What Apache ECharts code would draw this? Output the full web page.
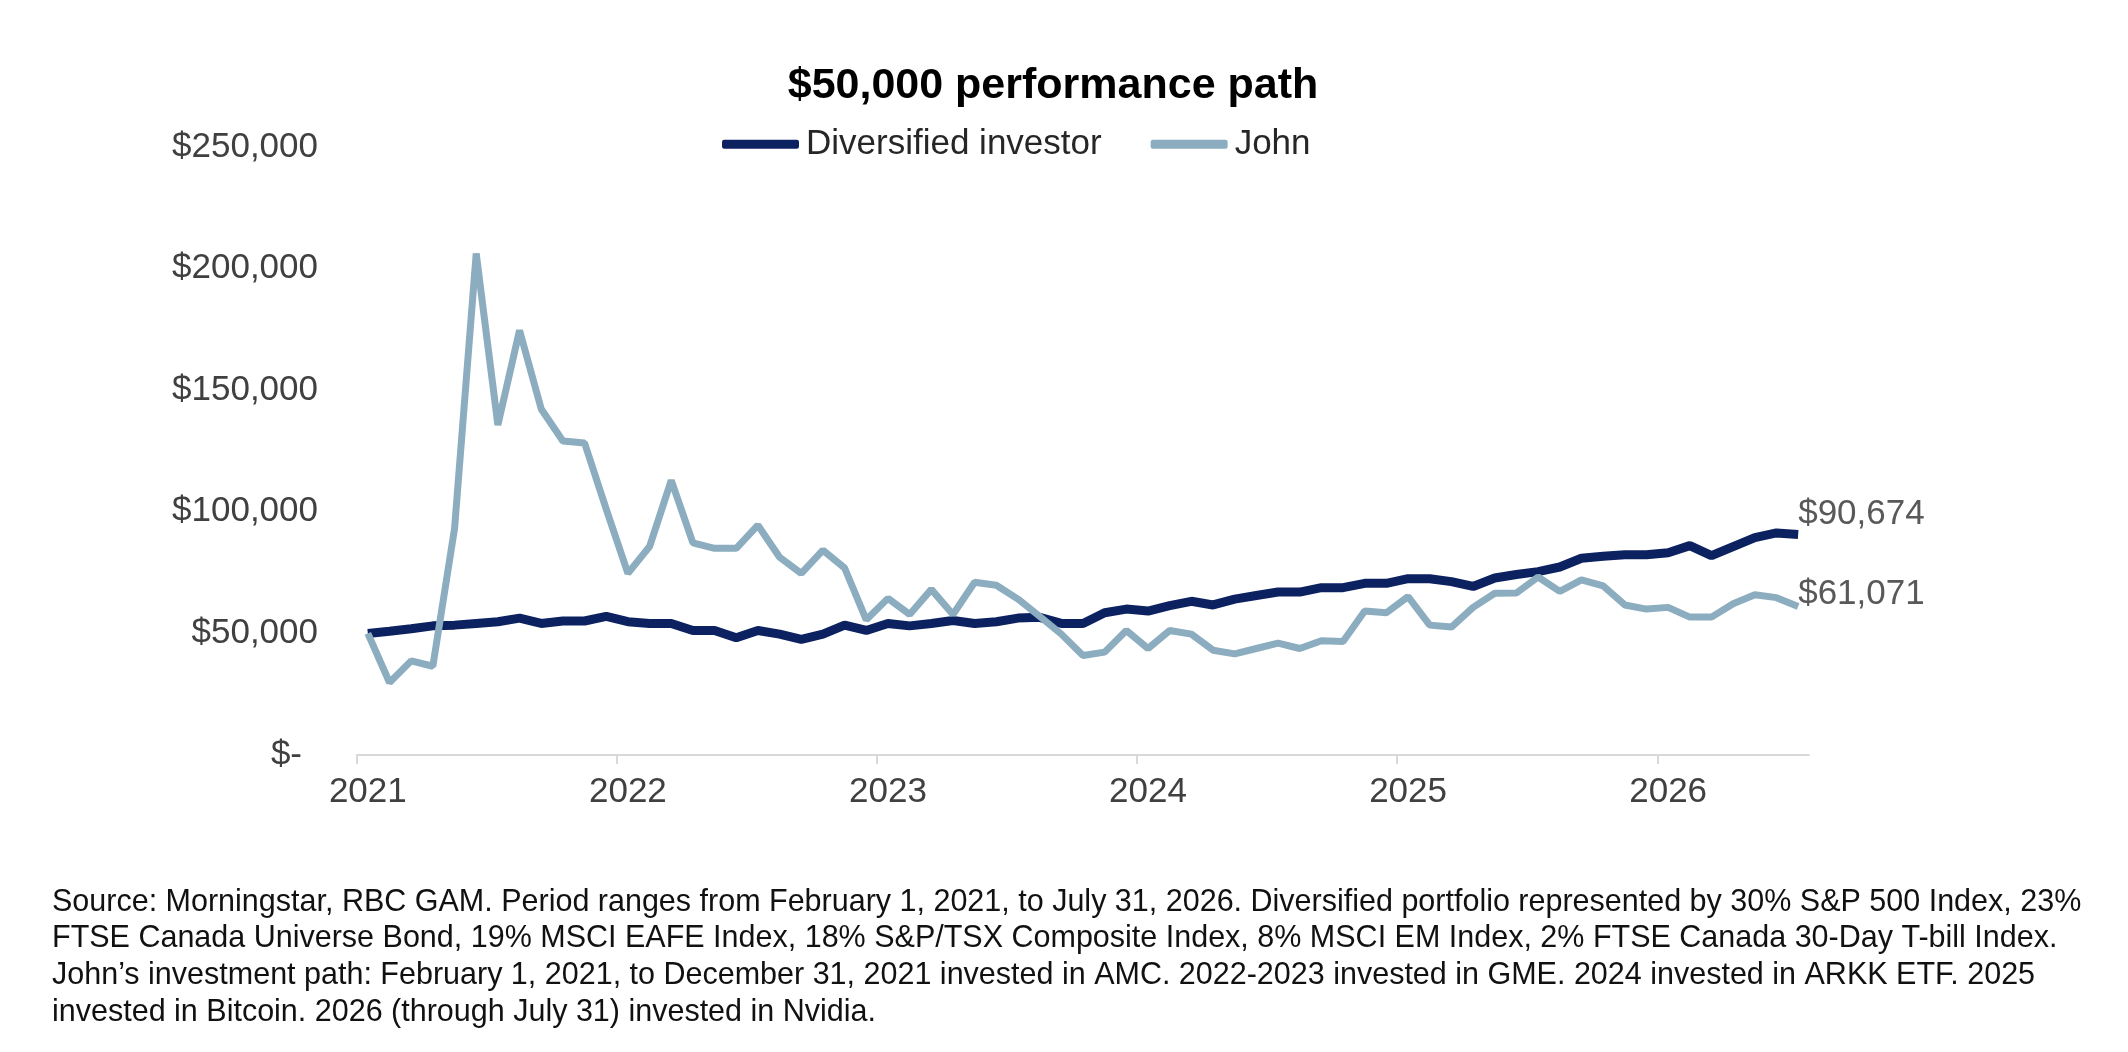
<html>
<head>
<title>$50,000 performance path</title>
<style type="text/css">
body{
	margin:0;
	background-color:#ffffff;
}
#chart{
	width:2128px;
	height:1052px;
}
</style>
<script src="https://cdn.jsdelivr.net/npm/echarts@6/dist/echarts.min.js"></script>
</head>
<body>
	<div id="chart"></div>
	<script type="text/javascript">
	// monthly points, Jan 2021 .. Jul 2026 (first point = the $50,000 start)
	var startYear = 2021;
	var monthCount = 67;
	var months = [];
	for (var i = 0; i < monthCount; i++) {
		var y = startYear + Math.floor(i / 12);
		var m = i % 12 + 1;
		months.push(y + '-' + (m < 10 ? '0' + m : m));
	}
	// year boundaries, counted in months from Jan 2021
	var yearTicks = [0, 12, 24, 36, 48, 60];

	var seriesNames = ['Diversified investor', 'John'];

	var diversified = [
		50000, 50900, 51900, 53100, 53400, 54100, 54800, 56300, 54100, 55100, 55100, 57000,
		54800, 54100, 54100, 51200, 51200, 48200, 51200, 49700, 47500, 49700, 53400, 51200,
		54100, 53100, 54100, 55300, 54100, 54800, 56300, 56600, 54100, 54100, 58500, 60000,
		59200, 61400, 63200, 61700, 64100, 65600, 67000, 67000, 68800, 68800, 70600, 70600,
		72500, 72500, 71300, 69300, 72800, 74200, 75400, 77300, 80900, 81700, 82300, 82300,
		83200, 86100, 82000, 85700, 89400, 91300, 90674
	];

	var john = [
		50000, 29800, 38700, 36500, 93000, 206200, 135700, 174600, 142300, 129100, 128300, 101100,
		74700, 85700, 112900, 87200, 85000, 85000, 94500, 81300, 74700, 84200, 76900, 55600,
		64400, 57800, 68100, 57800, 71000, 69800, 64100, 57000, 49700, 40900, 42300, 51200,
		43800, 51200, 49700, 43100, 41600, 43800, 46000, 43800, 47000, 46700, 59200, 58500,
		65100, 53400, 52600, 60700, 66500, 66600, 73200, 67300, 72000, 69500, 61700, 60000,
		60700, 56700, 56700, 62200, 65900, 64700, 61071
	];

	var yTicks = [0, 50000, 100000, 150000, 200000, 250000];

	var footnote = [
		'Source: Morningstar, RBC GAM. Period ranges from February 1, 2021, to July 31, 2026. Diversified portfolio represented by 30% S&P 500 Index, 23%',
		'FTSE Canada Universe Bond, 19% MSCI EAFE Index, 18% S&P/TSX Composite Index, 8% MSCI EM Index, 2% FTSE Canada 30-Day T-bill Index.',
		'John\u2019s investment path: February 1, 2021, to December 31, 2021 invested in AMC. 2022-2023 invested in GME. 2024 invested in ARKK ETF. 2025',
		'invested in Bitcoin. 2026 (through July 31) invested in Nvidia.'
	];

	var font = '"Liberation Sans", Arial, sans-serif';
	var darkBlue = '#0c2160';
	var lightBlue = '#8cadbf';
	var axisGray = '#d9d9d9';

	function money(v){
		return '$' + Math.round(v).toLocaleString('en-US');
	}
	function isYearStart(index){
		return index % 12 === 0;
	}

	var myChart = echarts.init(document.getElementById('chart'));
	var option = {
		backgroundColor: '#ffffff',
		animation: false,
		textStyle: {fontFamily: font},
		title: {
			text: '$50,000 performance path',
			left: 1048,
			top: 44,
			textAlign: 'center',
			textStyle: {fontSize: 43, fontWeight: 'bold', color: '#000000', fontFamily: font}
		},
		legend: {
			data: seriesNames,
			left: 717,
			top: 109,
			icon: 'roundRect',
			itemWidth: 77,
			itemHeight: 9,
			itemGap: 49,
			textStyle: {fontSize: 35, color: '#262626', fontFamily: font, padding: [0, 0, 0, 2]}
		},
		grid: {left: 357, right: 319, top: 147, bottom: 297, containLabel: false},
		xAxis: [{
			type: 'category',
			data: months,
			boundaryGap: true,
			axisLine: {lineStyle: {color: axisGray, width: 2}},
			axisTick: {show: false},
			axisLabel: {
				interval: isYearStart,
				margin: 7,
				fontSize: 35,
				color: '#404040',
				fontFamily: font,
				formatter: function(v){ return v.slice(0, 4); }
			},
			splitLine: {show: false}
		},{
			// only carries the year tick marks on the band boundaries
			type: 'value',
			position: 'bottom',
			min: 0,
			max: monthCount,
			axisLine: {show: false},
			axisLabel: {show: false},
			splitLine: {show: false},
			axisTick: {show: true, customValues: yearTicks, length: 9, lineStyle: {color: axisGray, width: 2}}
		}],
		yAxis: {
			type: 'value',
			min: yTicks[0],
			max: yTicks[yTicks.length - 1],
			interval: yTicks[1] - yTicks[0],
			axisLine: {show: false},
			axisTick: {show: false},
			splitLine: {show: false},
			axisLabel: {
				margin: 39,
				fontSize: 35,
				color: '#404040',
				fontFamily: font,
				formatter: function(v){ return v === 0 ? '{z|$-}' : money(v); },
				rich: {z: {fontSize: 35, color: '#404040', fontFamily: font, padding: [0, 16, 0, 0]}}
			}
		},
		series: [{
			name: seriesNames[0],
			type: 'line',
			xAxisIndex: 0,
			data: diversified,
			symbol: 'none',
			smooth: false,
			color: darkBlue,
			lineStyle: {color: darkBlue, width: 9},
			endLabel: {
				show: true,
				formatter: function(p){ return money(p.value); },
				offset: [-8, -20],
				fontSize: 35,
				color: '#595959',
				fontFamily: font
			}
		},{
			name: seriesNames[1],
			type: 'line',
			xAxisIndex: 0,
			data: john,
			symbol: 'none',
			smooth: false,
			color: lightBlue,
			lineStyle: {color: lightBlue, width: 7},
			endLabel: {
				show: true,
				formatter: function(p){ return money(p.value); },
				offset: [-8, -12],
				fontSize: 35,
				color: '#595959',
				fontFamily: font
			}
		}],
		graphic: [{
			type: 'text',
			left: 52,
			top: 876,
			style: {
				text: footnote.join('\n'),
				fontSize: 30.5,
				lineHeight: 36.7,
				fill: '#111111',
				fontFamily: font
			}
		}]
	};
	myChart.setOption(option);
	</script>
</body>
</html>
